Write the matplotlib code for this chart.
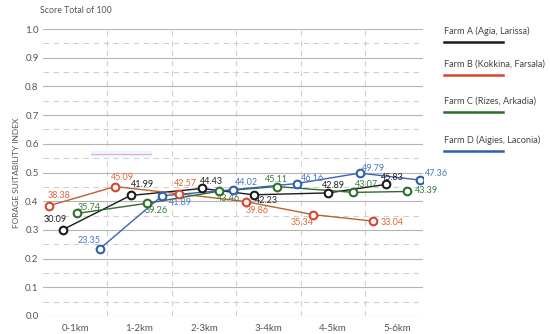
import numpy as np
import matplotlib.pyplot as plt
from matplotlib.lines import Line2D

plt.rcParams['font.family'] = ['Lato', 'DejaVu Sans']

categories = ['0-1km', '1-2km', '2-3km', '3-4km', '4-5km', '5-6km']
series_names = ['Farm A (Agia, Larissa)', 'Farm B (Kokkina, Farsala)',
                'Farm C (Rizes, Arkadia)', 'Farm D (Aigies, Laconia)']

# scores (out of 100), plotted as index 0-1
farm_a = [30.09, 41.99, 44.43, 42.23, 42.89, 45.83]
farm_b = [38.38, 45.09, 42.57, 39.86, 35.34, 33.04]
farm_c = [35.74, 39.26, 43.46, 45.11, 43.07, 43.39]
farm_d = [23.35, 41.89, 44.02, 46.16, 49.79, 47.36]

# x position of each point inside the distance bands (band i spans i..i+1)
x_a = [0.31, 1.36, 2.47, 3.27, 4.43, 5.32]
x_b = [0.09, 1.12, 2.12, 3.15, 4.19, 5.13]
x_c = [0.53, 1.61, 2.73, 3.63, 4.82, 5.66]
x_d = [0.88, 1.85, 2.95, 3.94, 4.92, 5.86]

# label offsets in pixels
off_a = [(-8, 10), (12, 11), (9, 7), (13, -6), (5, 7), (7, 7)]
off_b = [(10, 10), (7, 9), (6, 10), (11, -9), (-11, -8), (19, -1)]
off_c = [(12, 6), (10, -7), (10, -7), (0, 7), (13, 8), (19, 1)]
off_d = [(-10, 8), (18, -7), (14, 7), (16, 5), (14, 5), (16, 7)]

fig = plt.figure(figsize=(5.5, 3.34), dpi=100)
ax = fig.add_axes([0.078, 0.054, 0.691, 0.859])

styles = [
    (x_a, farm_a, off_a, '#1a1a1a', '#1a1a1a', '#222222'),
    (x_b, farm_b, off_b, '#b8642e', '#d9432f', '#e0663c'),
    (x_c, farm_c, off_c, '#2f6b2f', '#2e6e2e', '#3d7a3d'),
    (x_d, farm_d, off_d, '#3d62b3', '#2f5fb0', '#4a78c0'),
]

# faint highlight artifact near 0.56
ax.fill_between([0.75, 1.68], 0.558, 0.575, color='#e6fbff', zorder=1)
ax.plot([0.75, 1.68], [0.566, 0.566], color='#ff9ad5', lw=0.8, zorder=1)

for xs, vals, offs, lc, mc, tc in styles:
    ys = np.array(vals) / 100
    ax.plot(xs, ys, color=lc, lw=1.0, zorder=3)
    ax.plot(xs, ys, 'o', ms=5.5, mfc='white', mec=mc, mew=1.5, zorder=4)
    for x, y, v, (dx, dy) in zip(xs, ys, vals, offs):
        ax.annotate(f'{v:.2f}', (x, y), xytext=(dx, dy), textcoords='offset pixels',
                    ha='center', va='center', fontsize=6.5, color=tc, zorder=5)

ax.set_xlim(0, 5.9)
ax.set_ylim(0, 1.0)
ax.set_yticks(np.arange(0, 1.01, 0.1))
ax.set_yticklabels([f'{v:.1f}' for v in np.arange(0, 1.01, 0.1)])
ax.set_yticks(np.arange(0.05, 1.0, 0.1), minor=True)
ax.set_xticks(np.arange(6) + 0.5)
ax.set_xticklabels(categories)
ax.tick_params(axis='both', length=0, labelsize=7, colors='#555555')
ax.tick_params(axis='x', pad=6)
ax.tick_params(axis='y', pad=3)
ax.tick_params(which='minor', length=0)
for s in ax.spines.values():
    s.set_visible(False)

ax.grid(axis='y', which='major', color='#b5b5b5', lw=0.8)
ax.grid(axis='y', which='minor', color='#cfcfcf', lw=0.8, ls=(0, (5, 4)))
for b in range(1, 6):
    ax.axvline(b, color='#d0d0d0', lw=0.8, ls=(0, (5, 4)), zorder=0)
ax.set_axisbelow(True)

ax.set_ylabel('FORAGE SUITABILITY INDEX', fontsize=6, color='#555555', labelpad=4)
fig.text(0.073, 0.97, 'Score Total of 100', fontsize=6.3, color='#555555', va='center')

# legend drawn to the right: name above a coloured line
leg_y = [0.907, 0.808, 0.698, 0.581]
for name, (xs, vals, offs, lc, mc, tc), yy in zip(series_names, styles, leg_y):
    fig.text(0.807, yy, name, fontsize=6.6, color='#444444', va='center')
    fig.add_artist(Line2D([0.807, 0.915], [yy - 0.032, yy - 0.032], color=mc, lw=1.8))

fig.savefig('out.png', dpi=100)
